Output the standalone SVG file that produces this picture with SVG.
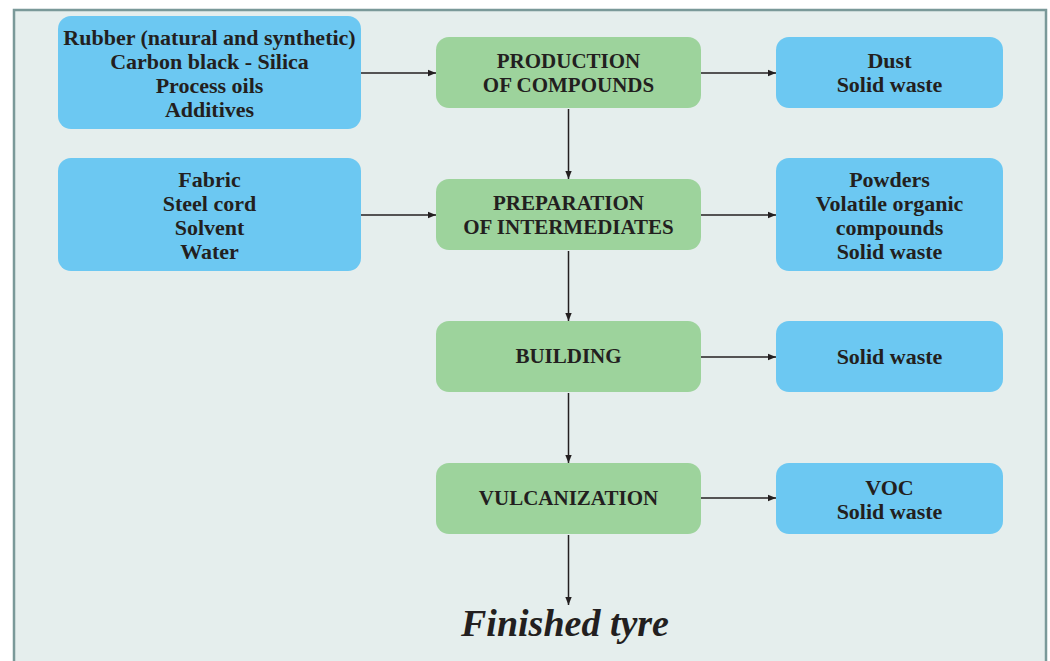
<svg xmlns="http://www.w3.org/2000/svg" width="1050" height="661" viewBox="0 0 1050 661">
<defs>
<style>
.bg{fill:#e5eeed;stroke:#7a9999;stroke-width:2.5}
.in{fill:#6cc8f2}
.pr{fill:#9dd39c}
.t{font-family:"Liberation Serif","DejaVu Serif",serif;font-weight:bold;font-size:22px;fill:#231f20;text-anchor:middle}
.u{font-size:21px}
.c{stroke:#231f20;stroke-width:1.5;fill:none;marker-end:url(#ah)}
.fin{font-family:"Liberation Serif","DejaVu Serif",serif;font-weight:bold;font-style:italic;font-size:38px;fill:#231f20;text-anchor:middle}
</style>
<marker id="ah" viewBox="0 0 10 10" refX="10" refY="5" markerWidth="8" markerHeight="8" markerUnits="userSpaceOnUse" orient="auto">
<path d="M0,1 L10,5 L0,9 Z" fill="#231f20"/>
</marker>
</defs>
<rect class="bg" x="14" y="10" width="1032" height="660"/>
<g id="connectors">
<line class="c" x1="361" y1="73" x2="436" y2="73"/>
<line class="c" x1="361" y1="215" x2="436" y2="215"/>
<line class="c" x1="701" y1="73" x2="776" y2="73"/>
<line class="c" x1="701" y1="215" x2="776" y2="215"/>
<line class="c" x1="701" y1="357" x2="776" y2="357"/>
<line class="c" x1="701" y1="498" x2="776" y2="498"/>
<line class="c" x1="568.5" y1="109" x2="568.5" y2="179"/>
<line class="c" x1="568.5" y1="251" x2="568.5" y2="321"/>
<line class="c" x1="568.5" y1="393" x2="568.5" y2="463"/>
<line class="c" x1="568.5" y1="535" x2="568.5" y2="605"/>
</g>
<g id="in1"><rect class="in" x="58" y="16" width="303" height="113" rx="13"/>
<text class="t" x="209.5" y="45">Rubber (natural and synthetic)</text>
<text class="t" x="209.5" y="69">Carbon black - Silica</text>
<text class="t" x="209.5" y="93">Process oils</text>
<text class="t" x="209.5" y="117">Additives</text></g>
<g id="in2"><rect class="in" x="58" y="158" width="303" height="113" rx="13"/>
<text class="t" x="209.5" y="187">Fabric</text>
<text class="t" x="209.5" y="211">Steel cord</text>
<text class="t" x="209.5" y="235">Solvent</text>
<text class="t" x="209.5" y="259">Water</text></g>
<g id="p1"><rect class="pr" x="436" y="37" width="265" height="71" rx="13"/>
<text class="t u" x="568.5" y="68">PRODUCTION</text>
<text class="t u" x="568.5" y="92">OF COMPOUNDS</text></g>
<g id="p2"><rect class="pr" x="436" y="179" width="265" height="71" rx="13"/>
<text class="t u" x="568.5" y="210">PREPARATION</text>
<text class="t u" x="568.5" y="234">OF INTERMEDIATES</text></g>
<g id="p3"><rect class="pr" x="436" y="321" width="265" height="71" rx="13"/>
<text class="t u" x="568.5" y="363">BUILDING</text></g>
<g id="p4"><rect class="pr" x="436" y="463" width="265" height="71" rx="13"/>
<text class="t u" x="568.5" y="505">VULCANIZATION</text></g>
<g id="o1"><rect class="in" x="776" y="37" width="227" height="71" rx="13"/>
<text class="t" x="889.5" y="68">Dust</text>
<text class="t" x="889.5" y="92">Solid waste</text></g>
<g id="o2"><rect class="in" x="776" y="158" width="227" height="113" rx="13"/>
<text class="t" x="889.5" y="187">Powders</text>
<text class="t" x="889.5" y="211">Volatile organic</text>
<text class="t" x="889.5" y="235">compounds</text>
<text class="t" x="889.5" y="259">Solid waste</text></g>
<g id="o3"><rect class="in" x="776" y="321" width="227" height="71" rx="13"/>
<text class="t" x="889.5" y="364">Solid waste</text></g>
<g id="o4"><rect class="in" x="776" y="463" width="227" height="71" rx="13"/>
<text class="t" x="889.5" y="495">VOC</text>
<text class="t" x="889.5" y="519">Solid waste</text></g>
<g id="finished"><text class="fin" x="565" y="636">Finished tyre</text></g>
</svg>
